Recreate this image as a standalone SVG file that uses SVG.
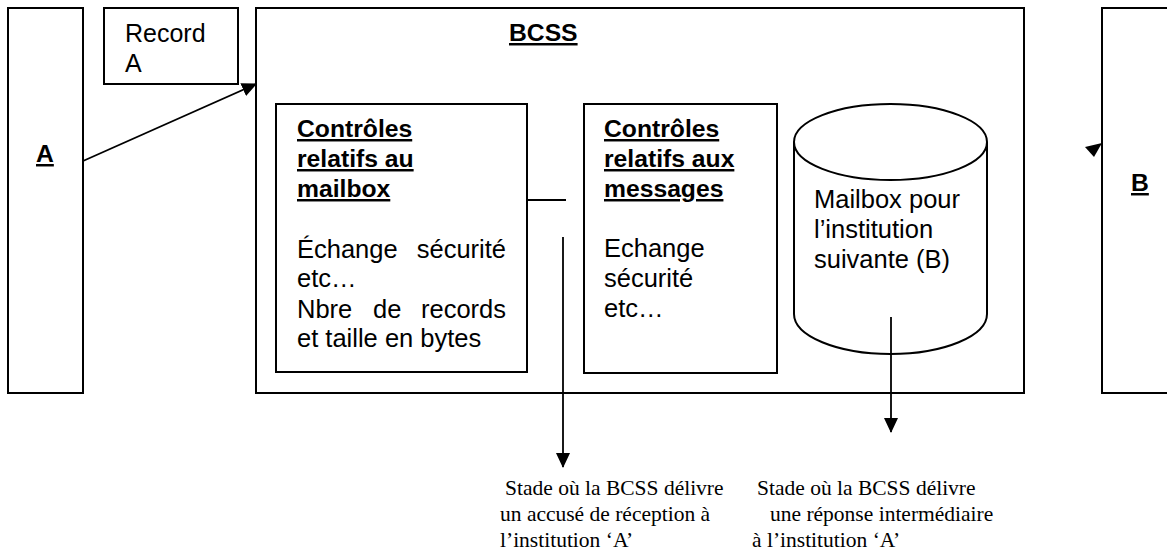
<svg xmlns="http://www.w3.org/2000/svg" width="1167" height="558" viewBox="0 0 1167 558">
<style>
.box{fill:none;stroke:#000;stroke-width:2}
.ln{fill:none;stroke:#000;stroke-width:1.8}
.t{font-family:"Liberation Sans",Arial,sans-serif;font-size:25.5px;fill:#000}
.b{font-weight:bold;text-decoration:underline;font-size:24.7px}
.s{font-family:"Liberation Serif","Times New Roman",serif;font-size:21.5px;fill:#000}
</style>
<defs>
<marker id="ah" markerWidth="15" markerHeight="15" refX="14" refY="7" orient="auto" markerUnits="userSpaceOnUse">
<path d="M0,0 L15,7 L0,14 Z" fill="#000"/>
</marker>
</defs>
<rect width="1167" height="558" fill="#fff"/>
<g id="nodeA">
<rect class="box" x="8" y="8" width="75" height="385"/>
<text class="t b" x="36" y="162">A</text>
</g>
<g id="record">
<rect class="box" x="104" y="8" width="134" height="76"/>
<text class="t" x="125" y="42" style="font-size:25px">Record</text>
<text class="t" x="125" y="72" style="font-size:25px">A</text>
</g>
<g id="bcss">
<rect class="box" x="256" y="8" width="768" height="385"/>
<text class="t b" x="509" y="41">BCSS</text>
</g>
<g id="ctrlMailbox">
<rect class="box" x="276" y="104" width="251" height="268"/>
<text class="t b" x="297" y="137">Contrôles</text>
<text class="t b" x="297" y="167">relatifs au</text>
<text class="t b" x="297" y="197">mailbox </text>
<text class="t" x="297" y="258">Échange</text>
<text class="t" x="506" y="258" text-anchor="end">sécurité</text>
<text class="t" x="297" y="287">etc…</text>
<text class="t" x="297" y="318">Nbre</text>
<text class="t" x="373" y="318">de</text>
<text class="t" x="506" y="318" text-anchor="end">records</text>
<text class="t" x="297" y="347">et taille en bytes</text>
</g>
<g id="ctrlMessages">
<rect class="box" x="584" y="104" width="193" height="269"/>
<text class="t b" x="604" y="137">Contrôles</text>
<text class="t b" x="604" y="167">relatifs aux</text>
<text class="t b" x="604" y="197">messages</text>
<text class="t" x="604" y="257">Echange</text>
<text class="t" x="604" y="287">sécurité</text>
<text class="t" x="604" y="317">etc…</text>
</g>
<g id="mailbox">
<path class="box" d="M794,142 A96.5,38 0 0 1 987,142 L987,314 A96.5,40 0 0 1 794,314 Z"/>
<path class="box" d="M794,142 A96.5,38 0 0 0 987,142"/>
<text class="t" x="814" y="208">Mailbox pour</text>
<text class="t" x="814" y="238">l’institution</text>
<text class="t" x="814" y="268">suivante (B)</text>
</g>
<g id="nodeB">
<rect class="box" x="1102" y="8" width="80" height="385"/>
<text class="t b" x="1131" y="191">B</text>
</g>
<g id="connectors">
<line class="ln" x1="83" y1="161" x2="256" y2="84" marker-end="url(#ah)"/>
<path d="M1102,143 L1085,147 L1094,157 Z" fill="#000"/>
<line class="ln" x1="527" y1="200" x2="566" y2="200"/>
<line class="ln" x1="563" y1="237" x2="563" y2="467" marker-end="url(#ah)"/>
<line class="ln" x1="891" y1="317" x2="891" y2="432" marker-end="url(#ah)"/>
</g>
<g id="labels">
<text class="s" x="505" y="495">Stade où la BCSS délivre</text>
<text class="s" x="500" y="521">un accusé de réception à</text>
<text class="s" x="500" y="547">l’institution ‘A’</text>
<text class="s" x="757" y="495">Stade où la BCSS délivre</text>
<text class="s" x="770" y="521">une réponse intermédiaire</text>
<text class="s" x="752" y="547">à l’institution ‘A’</text>
</g>
</svg>
